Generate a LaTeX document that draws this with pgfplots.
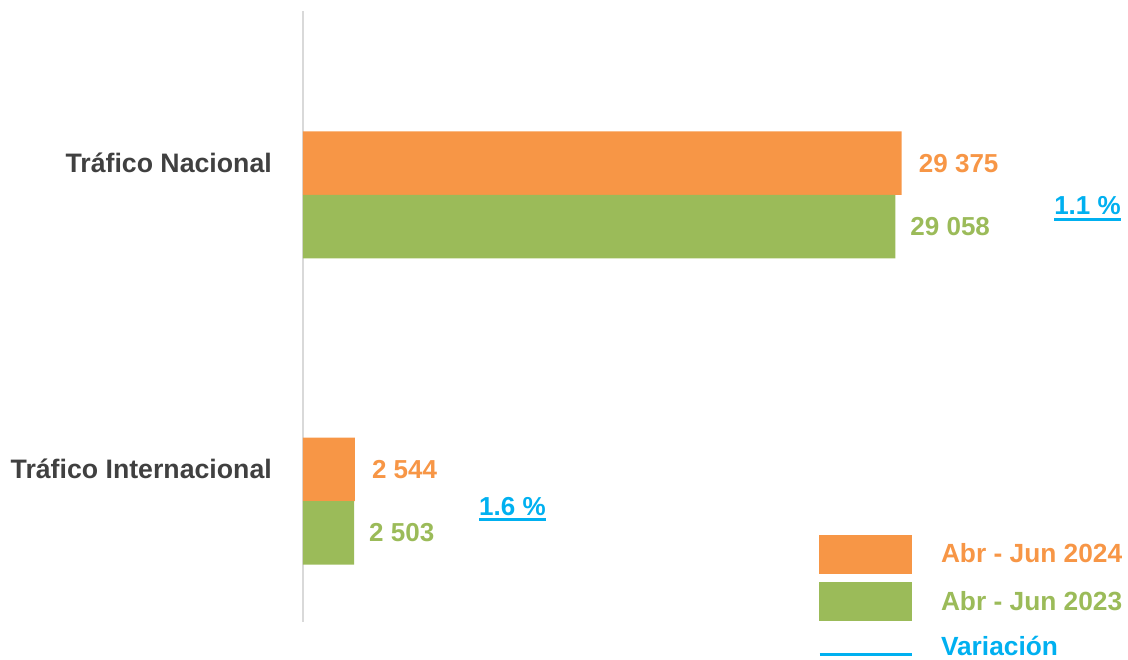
\documentclass[border=0pt]{standalone}
\usepackage{pgfplots}
\pgfplotsset{compat=1.18}
\usepackage{fontspec}
\setmainfont{Liberation Sans}

\definecolor{orng}{HTML}{F79646}
\definecolor{grn}{HTML}{9BBB59}
\definecolor{cyn}{HTML}{00B0F0}
\definecolor{lblgray}{HTML}{404040}
\definecolor{axgray}{HTML}{D9D9D9}

\newcommand\bigbold{\fontsize{26}{30}\selectfont\bfseries}
\newcommand\catfont{\fontsize{26.7}{30}\selectfont\bfseries}

\begin{document}
\begin{tikzpicture}
  \useasboundingbox (0,0) rectangle (1128pt,660pt);
  \begin{axis}[
      at={(303pt,38pt)}, anchor=south west,
      scale only axis,
      width=800pt, height=611pt,
      xmin=0, xmax=39250,
      ymin=-0.395, ymax=1.601,
      clip=false,
      axis x line=none,
      axis y line=left,
      y axis line style={draw=axgray, line width=2pt, -},
      xbar, bar width=0.2075,
      ytick={0.1037,1.1037},
      yticklabels={Tráfico Internacional, Tráfico Nacional},
      major tick length=0pt,
      yticklabel style={font=\catfont, text=lblgray, anchor=east, inner sep=0pt, xshift=-31pt},
      point meta=explicit symbolic,
      nodes near coords,
      every node near coord/.append style={font=\bigbold, anchor=west, inner sep=0pt},
      legend style={draw=none, fill=none, inner sep=0pt, outer sep=0pt,
        at={(0.64375,0.1424)}, anchor=north west,
        font=\fontsize{26.3}{30}\selectfont\bfseries, row sep=9pt, column sep=28pt,
        nodes={inner sep=0pt},
        cells={anchor=west}},
    ]
    % Abr - Jun 2024
    \addplot[draw=none, fill=orng, bar shift=0.10375, forget plot,
      every node near coord/.append style={text=orng, xshift=17pt}]
      coordinates {(29375,1) [29 375] (2544,0) [2 544]};
    % Abr - Jun 2023
    \addplot[draw=none, fill=grn, bar shift=-0.10375, forget plot,
      every node near coord/.append style={text=grn, xshift=15pt}]
      coordinates {(29058,1) [29 058] (2503,0) [2 503]};

    % variation labels
    \node[font=\bigbold, text=cyn, anchor=base west, inner sep=0pt] (v1) at (axis cs:36850,0.9346) {1.1 \%};
    \draw[cyn, line width=2.5pt] ([yshift=-4.5pt]v1.base west) -- ([yshift=-4.5pt]v1.base east);
    \node[font=\bigbold, text=cyn, anchor=base west, inner sep=0pt] (v2) at (axis cs:8636,-0.0458) {1.6 \%};
    \draw[cyn, line width=2.5pt] ([yshift=-4.5pt]v2.base west) -- ([yshift=-4.5pt]v2.base east);

    \addlegendimage{legend image code/.code={\fill[orng] (0pt,-19pt) rectangle (92pt,19pt);}}
    \addlegendimage{legend image code/.code={\fill[grn] (0pt,-19pt) rectangle (92pt,19pt);}}
    \addlegendimage{legend image code/.code={\path[draw=none, fill=none] (0pt,-19pt) rectangle (92pt,17pt); \draw[cyn, line width=3pt] (0pt,-8pt) -- (92pt,-8pt);}}
    \legend{\textcolor{orng}{Abr - Jun 2024}, \textcolor{grn}{Abr - Jun 2023}, \textcolor{cyn}{Variación}}
  \end{axis}
\end{tikzpicture}
\end{document}
